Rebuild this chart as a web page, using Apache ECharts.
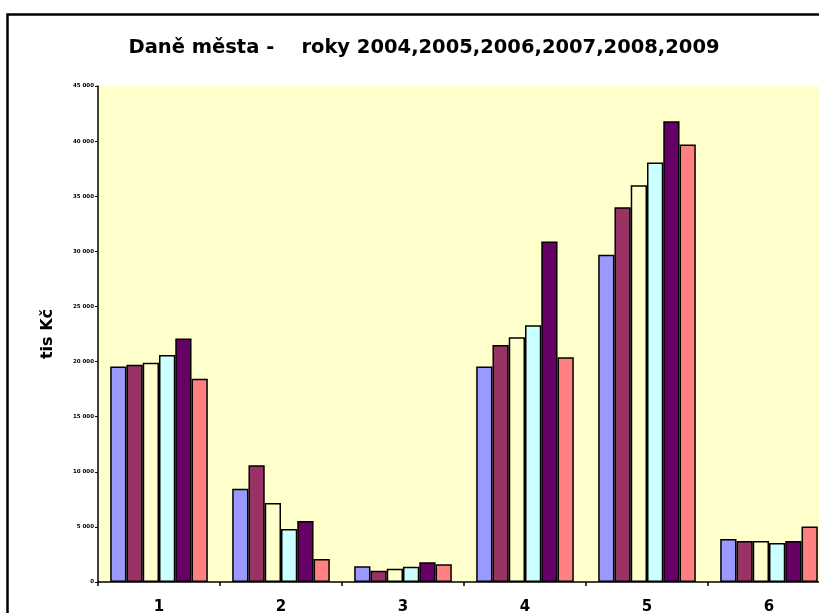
<!DOCTYPE html>
<html>
<head>
<meta charset="utf-8">
<script src="https://cdn.jsdelivr.net/npm/echarts@6/dist/echarts.min.js"></script>
<style>
html,body{margin:0;padding:0;background:#fff;}
#chart{width:819px;height:613px;}
</style>
</head>
<body>
<div id="chart"></div>
<script>
const categories = ['1','2','3','4','5','6'];
const seriesNames = ['2004','2005','2006','2007','2008','2009'];
const s2004 = [19550, 8470, 1420, 19550, 29700, 3900];
const s2005 = [19700, 10600, 1030, 21500, 34000, 3720];
const s2006 = [19900, 7170, 1210, 22200, 36000, 3720];
const s2007 = [20600, 4810, 1390, 23300, 38050, 3540];
const s2008 = [22100, 5530, 1790, 30900, 41800, 3720];
const s2009 = [18450, 2090, 1600, 20400, 39700, 5030];
const seriesData = [s2004, s2005, s2006, s2007, s2008, s2009];
const colors = ['#9999FF', '#993366', '#FFFFCC', '#CCFFFF', '#660066', '#FF8080'];
const titleText = 'Daně města -    roky 2004,2005,2006,2007,2008,2009';
const yAxisName = 'tis Kč';

const FONT = 'DejaVu Sans';
const chart = echarts.init(document.getElementById('chart'), null, {renderer: 'canvas'});
function fmt(v) {
  if (v === 0) return '0';
  return String(v).replace(/\B(?=(\d{3})+(?!\d))/g, ' ');
}
chart.setOption({
  animation: false,
  backgroundColor: '#ffffff',
  title: {
    text: titleText,
    left: 419, top: 33, textAlign: 'center',
    textStyle: {fontFamily: FONT, fontWeight: 'bold', fontSize: 19.5, color: '#000'}
  },
  graphic: [{
    type: 'rect', z: 100, silent: true,
    shape: {x: 7.5, y: 14.5, width: 900, height: 700},
    style: {fill: 'none', stroke: '#000', lineWidth: 2.5}
  }],
  grid: {
    left: 98, top: 86, width: 732, height: 496,
    outerBoundsMode: 'none', containLabel: false,
    show: true, backgroundColor: '#FFFFCC', borderWidth: 0
  },
  xAxis: {
    type: 'category', data: categories,
    axisLine: {show: true, lineStyle: {color: '#000', width: 1.5}},
    axisTick: {show: true, alignWithLabel: false, length: 4, lineStyle: {color: '#000', width: 1.5}},
    axisLabel: {fontFamily: FONT, fontWeight: 'bold', fontSize: 15, color: '#000', margin: 18},
    splitLine: {show: false}
  },
  yAxis: {
    type: 'value', min: 0, max: 45000, interval: 5000,
    name: yAxisName, nameLocation: 'middle', nameGap: 42, nameRotate: 90,
    nameTextStyle: {fontFamily: FONT, fontWeight: 'bold', fontSize: 16, color: '#000'},
    axisLine: {show: true, lineStyle: {color: '#000', width: 1.5}},
    axisTick: {show: true, length: 3, lineStyle: {color: '#000', width: 1}},
    axisLabel: {fontFamily: FONT, fontWeight: 'bold', fontSize: 5.5, color: '#000', margin: 4, formatter: fmt},
    splitLine: {show: false}
  },
  series: seriesNames.map((n, i) => ({
    name: n, type: 'bar', data: seriesData[i],
    barGap: '0%', barCategoryGap: '20%',
    itemStyle: {color: colors[i], borderColor: '#000', borderWidth: 1.5}
  }))
});
</script>
</body>
</html>
